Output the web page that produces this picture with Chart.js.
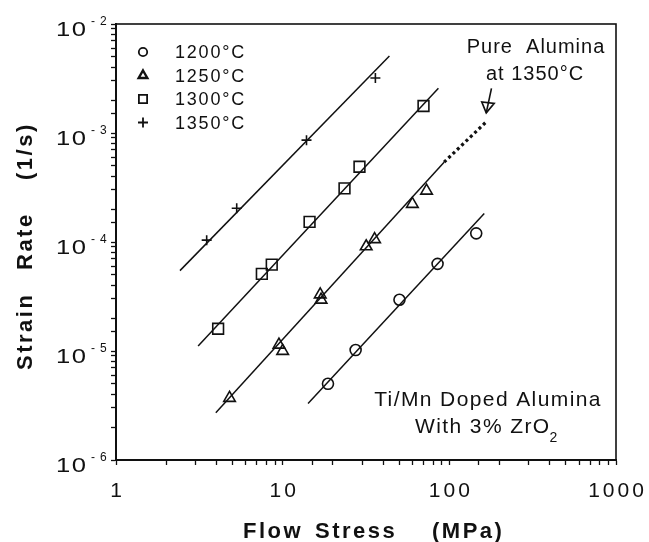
<!DOCTYPE html>
<html>
<head>
<meta charset="utf-8">
<script src="https://cdn.jsdelivr.net/npm/chart.js@4.4.0/dist/chart.umd.min.js"></script>
<style>
  html, body { margin: 0; padding: 0; background: #fff; }
  #wrap { width: 649px; height: 542px; }
</style>
</head>
<body>
<div id="wrap"><canvas id="chart" width="649" height="542"></canvas></div>
<script>
// =====================
// Data
// =====================
const temps = ['1200°C', '1250°C', '1300°C', '1350°C'];
const markers = ['circle', 'triangle', 'rect', 'cross'];

const stress1200 = [18.7, 27.4, 50.2, 85, 145];
const rate1200   = [5.0e-6, 1.02e-5, 2.95e-5, 6.3e-5, 1.2e-4];

const stress1250 = [4.8, 9.5, 10.0, 16.8, 17.0, 31.7, 35.6, 60, 73];
const rate1250   = [3.7e-6, 1.14e-5, 1.0e-5, 3.3e-5, 2.95e-5, 9.1e-5, 1.06e-4, 2.23e-4, 2.95e-4];

const stress1300 = [4.1, 7.5, 8.6, 14.5, 23.5, 28.9, 70];
const rate1300   = [1.6e-5, 5.1e-5, 6.2e-5, 1.53e-4, 3.1e-4, 4.9e-4, 1.77e-3];

const stress1350 = [3.5, 5.3, 13.9, 36];
const rate1350   = [1.04e-4, 2.04e-4, 8.6e-4, 3.2e-3];

// fitted lines, end points [start, end]
const fitStress = [[14.2, 162], [3.97, 93], [3.11, 86], [2.42, 43.7]];
const fitRate   = [[3.3e-6, 1.83e-4], [2.72e-6, 5.4e-4], [1.11e-5, 2.57e-3], [5.46e-5, 5.08e-3]];

// pure alumina at 1350°C (dotted)
const pureStress = [93, 166];
const pureRate   = [5.4e-4, 1.26e-3];
const arrowStress = [179, 166.5];
const arrowRate   = [2.57e-3, 1.53e-3];

const xTicks = [1, 10, 100, 1000];
const yExps  = [-6, -5, -4, -3, -2];

const stressSets = [stress1200, stress1250, stress1300, stress1350];
const rateSets   = [rate1200, rate1250, rate1300, rate1350];
const markerSize = [5.5, 6.7, 7.6, 5];

// --- helpers ---
function pairs(xs, ys) {
  return xs.map((v, i) => ({ x: v, y: ys[i] }));
}

const datasets = [];
fitStress.forEach((s, i) => {
  datasets.push({
    data: pairs(s, fitRate[i]),
    showLine: true, pointRadius: 0,
    borderColor: '#111', borderWidth: 1.5
  });
});
datasets.push({
  data: pairs(pureStress, pureRate),
  showLine: true, pointRadius: 0,
  borderColor: '#111', borderWidth: 3.2, borderDash: [3, 3]
});
stressSets.forEach((s, i) => {
  datasets.push({
    label: temps[i],
    data: pairs(s, rateSets[i]),
    showLine: false,
    pointStyle: markers[i],
    pointRadius: markerSize[i],
    pointBorderWidth: 1.6,
    pointBorderColor: '#111',
    pointBackgroundColor: 'rgba(0,0,0,0)'
  });
});

// =====================
// Text, legend, frame
// =====================
const decor = {
  id: 'decor',
  afterDraw(chart) {
    const { ctx, chartArea: a, scales: { x, y } } = chart;
    ctx.save();
    ctx.strokeStyle = '#111';
    ctx.fillStyle = '#111';

    // frame
    ctx.lineWidth = 1.6;
    ctx.strokeRect(a.left, a.top, a.right - a.left, a.bottom - a.top);

    // y tick labels 10^n
    yExps.forEach(e => {
      const py = y.getPixelForValue(Math.pow(10, e));
      ctx.font = '21px "Liberation Sans", Arial, sans-serif';
      ctx.letterSpacing = '0px';
      ctx.textAlign = 'left';
      ctx.textBaseline = 'alphabetic';
      ctx.save();
      ctx.translate(56, py + 12);
      ctx.scale(1.22, 1);
      ctx.fillText('1', 0, 0);
      ctx.fillText('0', 13, 0);
      ctx.restore();
      ctx.font = '12px "Liberation Sans", Arial, sans-serif';
      ctx.fillText('-', 91, py + 1);
      ctx.fillText(String(-e), 100, py + 1);
    });

    // x tick labels
    ctx.font = '21px "Liberation Sans", Arial, sans-serif';
    ctx.letterSpacing = '3px';
    ctx.textAlign = 'center';
    xTicks.forEach(v => {
      ctx.fillText(String(v), x.getPixelForValue(v) + 1.5, 497);
    });

    // axis titles
    ctx.font = 'bold 22px "Liberation Sans", Arial, sans-serif';
    ctx.letterSpacing = '2.5px';
    ctx.textAlign = 'left';
    ctx.fillText('Flow', 243, 538);
    ctx.fillText('Stress', 315, 538);
    ctx.fillText('(MPa)', 432, 538);

    ctx.save();
    ctx.translate(32, 0);
    ctx.rotate(-Math.PI / 2);
    ctx.fillText('Strain', -370, 0);
    ctx.fillText('Rate', -270, 0);
    ctx.fillText('(1/s)', -180, 0);
    ctx.restore();

    // legend
    const drawPoint = Chart.helpers && Chart.helpers.drawPoint;
    const legendR = [4.2, 5, 5.8, 5];
    temps.forEach((t, i) => {
      const ly = 52 + i * 23.5;
      ctx.fillStyle = 'rgba(0,0,0,0)';
      ctx.lineWidth = i === 1 ? 2.4 : 1.8;
      if (drawPoint) {
        drawPoint(ctx, { pointStyle: markers[i], radius: legendR[i], rotation: 0, borderWidth: ctx.lineWidth }, 143, ly);
      }
      ctx.fillStyle = '#111';
      ctx.font = '18px "Liberation Sans", Arial, sans-serif';
      ctx.letterSpacing = '1.8px';
      ctx.textAlign = 'left';
      ctx.fillText(t, 175, ly + 6);
    });

    // annotations
    ctx.font = '20px "Liberation Sans", Arial, sans-serif';
    ctx.letterSpacing = '1px';
    ctx.textAlign = 'center';
    ctx.fillText('Pure  Alumina', 536, 53);
    ctx.fillText('at 1350°C', 535, 80);

    ctx.font = '21px "Liberation Sans", Arial, sans-serif';
    ctx.letterSpacing = '1.4px';
    ctx.fillText('Ti/Mn Doped Alumina', 488, 406);
    ctx.textAlign = 'left';
    ctx.fillText('With 3% ZrO', 415, 433);
    const w = ctx.measureText('With 3% ZrO').width;
    ctx.font = '14px "Liberation Sans", Arial, sans-serif';
    ctx.letterSpacing = '0px';
    ctx.fillText('2', 415 + w - 1, 442);

    // arrow
    const x0 = x.getPixelForValue(arrowStress[0]), y0 = y.getPixelForValue(arrowRate[0]);
    const x1 = x.getPixelForValue(arrowStress[1]), y1 = y.getPixelForValue(arrowRate[1]);
    ctx.lineWidth = 1.6;
    ctx.beginPath();
    ctx.moveTo(x0, y0);
    ctx.lineTo(x1, y1);
    ctx.stroke();
    ctx.beginPath();
    ctx.moveTo(x1 - 4.5, y1 - 11);
    ctx.lineTo(x1, y1);
    ctx.lineTo(x1 + 8, y1 - 9.5);
    ctx.closePath();
    ctx.stroke();

    ctx.restore();
  }
};

const chart = new Chart(document.getElementById('chart').getContext('2d'), {
  type: 'scatter',
  data: { datasets },
  options: {
    responsive: false,
    animation: false,
    devicePixelRatio: 1,
    layout: { padding: { top: 24, right: 33, left: 0, bottom: 0 } },
    plugins: { legend: { display: false }, tooltip: { enabled: false } },
    scales: {
      x: {
        type: 'logarithmic', min: 1, max: 1000,
        afterFit: s => { s.height = 82; },
        ticks: { display: false },
        grid: {
          drawOnChartArea: false, drawTicks: true, tickLength: 5,
          color: '#111', tickWidth: 1.3
        },
        border: { display: true, color: '#111', width: 2 }
      },
      y: {
        type: 'logarithmic', min: 1e-6, max: 1e-2,
        afterFit: s => { s.width = 116; },
        ticks: { display: false },
        grid: {
          drawOnChartArea: false, drawTicks: true, tickLength: 5,
          color: '#111', tickWidth: 1.3
        },
        border: { display: true, color: '#111', width: 2 }
      }
    }
  },
  plugins: [decor]
});
</script>
</body>
</html>
